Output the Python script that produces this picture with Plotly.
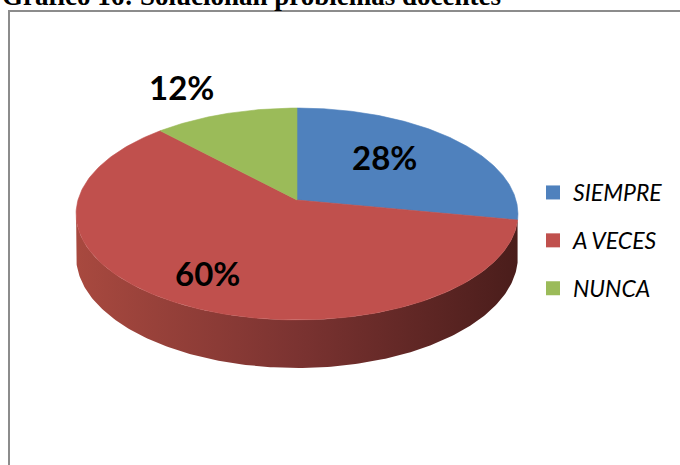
import numpy as np
import plotly.graph_objects as go

# ---- data ----
categories = ["SIEMPRE", "A VECES", "NUNCA"]
values = [28, 60, 12]
colors = ["#4F81BD", "#C0504D", "#9BBB59"]
title_text = "Gráfico 16: Solucionan problemas docentes"

# ---- 3D pie geometry (pixel space of the canvas) ----
W, H_PX = 680, 465
CX, CY = 297.0, 200.0      # projected pie centre
RA, RB = 219.0, 104.1      # horizontal / vertical radii of the top face
PERSP = 0.132              # perspective strength (near edge larger)
DEPTH = 41.7               # thickness of the pie


def project(theta, r=1.0, drop=0.0):
    """theta: clockwise angle from 12 o'clock (radians)."""
    u = r * np.sin(theta)
    v = -r * np.cos(theta)
    s = 1.0 / (1.0 - PERSP * v)
    x = CX + RA * u * s
    y = CY + RB * v * s + drop * DEPTH * s
    return x, y


total = float(sum(values))
fracs = [v / total for v in values]
starts = np.cumsum([0.0] + fracs[:-1]) * 2 * np.pi
ends = np.cumsum(fracs) * 2 * np.pi

# range of the rim that faces the viewer
vis_lo = np.arccos(-PERSP)
vis_hi = 2 * np.pi - vis_lo

side_shades = {
    "#4F81BD": [[0, "#3E6699"], [1, "#22395A"]],
    "#C0504D": [[0, "#A8493F"], [0.5, "#7B3331"], [1, "#4A1D1B"]],
    "#9BBB59": [[0, "#7D9848"], [1, "#4B5B2A"]],
}

fig = go.Figure()

# side walls
for t0, t1, col in zip(starts, ends, colors):
    a, b = max(t0, vis_lo), min(t1, vis_hi)
    if b <= a:
        continue
    th = np.linspace(a, b, 200)
    xt, yt = project(th)
    xb, yb = project(th[::-1], drop=1.0)
    xs = np.concatenate([xt, xb, xt[:1]])
    ys = np.concatenate([yt, yb, yt[:1]])
    fig.add_trace(go.Scatter(
        x=xs, y=ys, mode="lines", fill="toself",
        line=dict(width=0), showlegend=False, hoverinfo="skip",
        fillgradient=dict(type="horizontal", colorscale=side_shades[col]),
    ))

# top faces
for t0, t1, col in zip(starts, ends, colors):
    th = np.linspace(t0, t1, 200)
    xa, ya = project(th)
    xs = np.concatenate([[CX], xa, [CX]])
    ys = np.concatenate([[CY], ya, [CY]])
    fig.add_trace(go.Scatter(
        x=xs, y=ys, mode="lines", fill="toself", fillcolor=col,
        line=dict(width=0.6, color=col), showlegend=False, hoverinfo="skip",
    ))

# legend entries
for i, (name, col) in enumerate(zip(categories, colors)):
    fig.add_trace(go.Scatter(
        x=[None], y=[None], mode="markers", name=name,
        marker=dict(symbol="square", size=14, color=col),
        legendgroup=f"g{i}",
    ))

# percentage labels
label_r = [0.6, 0.7, 1.3]
label_shift = [(-9, 5), (-9, -4), (-25, 4)]
for v, t0, t1, r, (dx, dy) in zip(values, starts, ends, label_r, label_shift):
    lx, ly = project((t0 + t1) / 2, r=r)
    fig.add_annotation(
        x=lx, y=ly, text=f"{v}%", showarrow=False,
        xshift=dx, yshift=dy,
        font=dict(family="Lato", size=33, color="black", weight="bold"),
    )

# heading (partly above the visible area)
fig.add_annotation(
    x=0, y=13, xref="x", yref="y", xanchor="left", yanchor="bottom",
    text=f"<b>{title_text}</b>", showarrow=False,
    font=dict(family="Liberation Serif", size=27, color="black"),
)

# chart frame
fig.add_shape(type="rect", x0=9, y0=11, x1=700, y1=500, xref="x", yref="y",
              line=dict(color="#8C8C8C", width=2), layer="below")

fig.update_layout(
    width=W, height=H_PX,
    margin=dict(l=0, r=0, t=0, b=0),
    paper_bgcolor="white", plot_bgcolor="white",
    xaxis=dict(range=[0, W], visible=False, fixedrange=True),
    yaxis=dict(range=[H_PX, 0], visible=False, fixedrange=True),
    showlegend=True,
    legend=dict(
        x=533 / W, y=1 - 171 / H_PX, xanchor="left", yanchor="top",
        font=dict(family="Lato", size=23, color="black", style="italic"),
        tracegroupgap=15, itemwidth=30, bgcolor="rgba(0,0,0,0)",
    ),
)

fig.write_html("out.html")
